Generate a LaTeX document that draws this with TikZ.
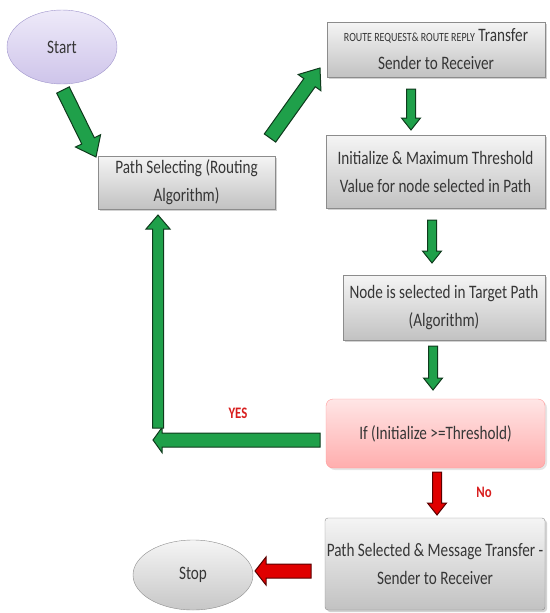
\documentclass[tikz,border=0pt]{standalone}
\usepackage{fontspec}
\setmainfont{Carlito}[FakeStretch=0.8]
\usetikzlibrary{calc,shapes.geometric,shadows}
\definecolor{txt}{HTML}{363636}
\definecolor{gfill}{HTML}{1FA04A}
\definecolor{gline}{HTML}{0E3A1C}
\definecolor{rfill}{HTML}{E00000}
\definecolor{rline}{HTML}{5A0000}
\definecolor{lbl}{HTML}{D81E1E}
\definecolor{lavtop}{HTML}{EEEAF9}
\definecolor{lavbot}{HTML}{CEC4EA}
\definecolor{lavline}{HTML}{A096CC}
\newcommand\blockarrow[6]{%
  \coordinate (bxH) at ($(#2)!#5!(#1)$);
  \draw[#6] ($(#1)!#3!90:(#2)$) -- ($(bxH)!#3!-90:(#1)$) -- ($(bxH)!#4!-90:(#1)$) -- (#2)
    -- ($(bxH)!#4!90:(#1)$) -- ($(bxH)!#3!90:(#1)$) -- ($(#1)!#3!-90:(#2)$) -- cycle;}
\begin{document}
\begin{tikzpicture}[x=1pt,y=-1pt,
  every node/.style={text=txt,font=\fontsize{19}{28}\selectfont},
  box/.style={rectangle,draw=black!45,top color=black!4,bottom color=black!24,
    drop shadow={shadow xshift=2pt,shadow yshift=-2pt,fill=black!35},align=center,inner sep=0pt},
  ifbox/.style={rectangle,rounded corners=7pt,draw=red!40,top color=red!10,bottom color=red!32,
    drop shadow={shadow xshift=2pt,shadow yshift=-2pt,fill=black!20},align=center,inner sep=0pt},
  garrow/.style={fill=gfill,draw=gline,line width=1pt,line join=miter},
  rarrow/.style={fill=rfill,draw=rline,line width=1pt,line join=miter},
  lab/.style={text=lbl,font=\fontsize{16}{18}\selectfont\bfseries}]
\useasboundingbox (0,0) rectangle (549,613);
% nodes
\node[ellipse,draw=lavline,top color=lavtop,bottom color=lavbot,minimum width=110pt,minimum height=74pt,inner sep=0pt] (start) at (62,47) {Start};
\node[box,minimum width=177pt,minimum height=53pt] (ps) at (186.5,182.5) {Path Selecting (Routing\\Algorithm)};
\node[box,minimum width=218pt,minimum height=55pt] (rr) at (436,49.5) {{\fontsize{12.5}{13}\selectfont ROUTE REQUEST\& ROUTE REPLY} Transfer\\Sender to Receiver};
\node[box,minimum width=219pt,minimum height=73pt] (init) at (435.5,171.5) {Initialize \& Maximum Threshold\\Value for node selected in Path};
\node[box,minimum width=202pt,minimum height=65pt] (nsel) at (444,307.5) {Node is selected in Target Path\\(Algorithm)};
\node[ifbox,minimum width=219pt,minimum height=69pt] (ifn) at (435.5,433.5) {If (Initialize >=Threshold)};
\node[box,rounded corners=3pt,minimum width=220pt,minimum height=92pt] (pst) at (435,564) {Path Selected \& Message Transfer -\\Sender to Receiver};
\node[ellipse,draw=black!45,top color=black!4,bottom color=black!22,minimum width=120pt,minimum height=70pt,inner sep=0pt] (stop) at (193,575) {Stop};
% labels
\node[lab] (yes) at (238,413) {YES};
\node[lab] (no) at (484,492) {No};
% arrow end points
\coordinate (a1s) at (63,90);   \coordinate (a1e) at (96,157);
\coordinate (a2s) at (270,138); \coordinate (a2e) at (320,68);
\coordinate (a3s) at (411,89);  \coordinate (a3e) at (411,130);
\coordinate (a4s) at (432,220); \coordinate (a4e) at (432,263);
\coordinate (a5s) at (433,346); \coordinate (a5e) at (433,390);
\coordinate (a6s) at (437,472); \coordinate (a6e) at (437,515);
\coordinate (a7s) at (320,440); \coordinate (a7e) at (153,440);
\coordinate (a8s) at (158,428); \coordinate (a8e) at (158,215);
\coordinate (a9s) at (311,571); \coordinate (a9e) at (255,571);
\blockarrow{a1s}{a1e}{7pt}{14pt}{18pt}{garrow}
\blockarrow{a2s}{a2e}{7pt}{14pt}{18pt}{garrow}
\blockarrow{a3s}{a3e}{4.5pt}{9.5pt}{12pt}{garrow}
\blockarrow{a4s}{a4e}{4.5pt}{9.5pt}{12pt}{garrow}
\blockarrow{a5s}{a5e}{4.5pt}{9.5pt}{12pt}{garrow}
\blockarrow{a6s}{a6e}{4.5pt}{9.5pt}{12pt}{rarrow}
\blockarrow{a7s}{a7e}{7pt}{12.5pt}{9pt}{garrow}
\blockarrow{a8s}{a8e}{5.5pt}{12pt}{14pt}{garrow}
\blockarrow{a9s}{a9e}{7pt}{14pt}{11pt}{rarrow}
\end{tikzpicture}
\end{document}
